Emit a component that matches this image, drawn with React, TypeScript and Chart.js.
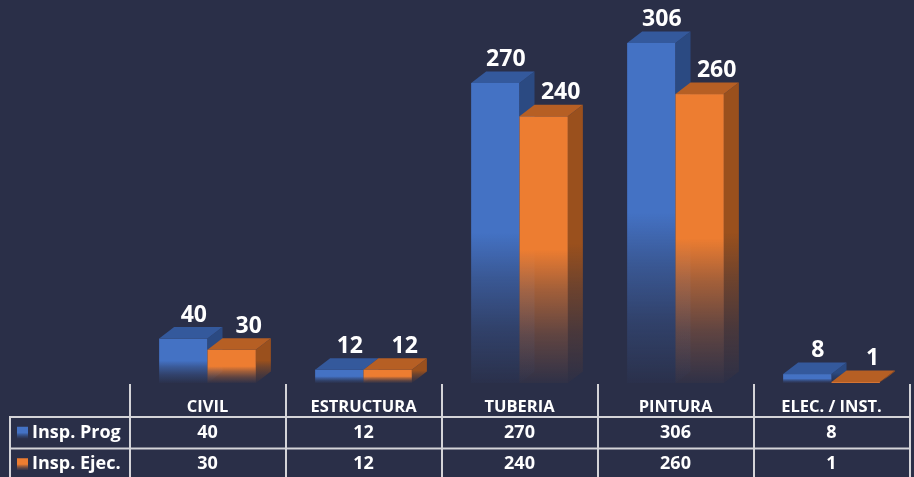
import React, { useEffect, useRef } from 'react';
import { Chart, registerables } from 'chart.js';

Chart.register(...registerables);

const categories = ['CIVIL', 'ESTRUCTURA', 'TUBERIA', 'PINTURA', 'ELEC. / INST.'];
const seriesNames = ['Insp. Prog', 'Insp. Ejec.'];
const inspProg = [40, 12, 270, 306, 8];
const inspEjec = [30, 12, 240, 260, 1];

const BG = '#2a2f48';
const FONT = '"Open Sans", "DejaVu Sans", sans-serif';
const GRID = '#d4d4d8';
const palette = [
  { front: '#4472c4', top: '#34599c', side: '#2b4a82' },
  { front: '#ed7d31', top: '#b65f24', side: '#9a501d' },
];
const DX = 15;
const DY = 11.5;
const labelShift = [3, 9.5];

function rgba(hex: string, a: number) {
  const n = parseInt(hex.slice(1), 16);
  return `rgba(${(n >> 16) & 255},${(n >> 8) & 255},${n & 255},${a})`;
}

function fade(ctx: CanvasRenderingContext2D, hex: string, top: number, base: number) {
  const g = ctx.createLinearGradient(0, top, 0, Math.max(base, top + 0.5));
  g.addColorStop(0, rgba(hex, 1));
  g.addColorStop(0.5, rgba(hex, 1));
  g.addColorStop(0.65, rgba(hex, 0.62));
  g.addColorStop(0.82, rgba(hex, 0.28));
  g.addColorStop(1, rgba(hex, 0.03));
  return g;
}

const bars3d = {
  id: 'bars3d',
  afterDatasetsDraw(chart: any) {
    const ctx: CanvasRenderingContext2D = chart.ctx;
    ctx.save();
    const n = chart.data.datasets.length;
    for (let d = 0; d < n; d++) {
      const meta = chart.getDatasetMeta(d);
      const col = palette[d];
      meta.data.forEach((bar: any) => {
        const { x, y, base, width } = bar.getProps(['x', 'y', 'base', 'width'], true);
        const l = x - width / 2;
        const r = x + width / 2;
        ctx.fillStyle = fade(ctx, col.front, y, base);
        ctx.fillRect(l, y, width, base - y);
        ctx.beginPath();
        ctx.moveTo(r, y);
        ctx.lineTo(r + DX, y - DY);
        ctx.lineTo(r + DX, base - DY);
        ctx.lineTo(r, base);
        ctx.closePath();
        ctx.fillStyle = fade(ctx, col.side, y - DY, base);
        ctx.fill();
        ctx.beginPath();
        ctx.moveTo(l, y);
        ctx.lineTo(l + DX, y - DY);
        ctx.lineTo(r + DX, y - DY);
        ctx.lineTo(r, y);
        ctx.closePath();
        ctx.fillStyle = col.top;
        ctx.fill();
      });
    }
    ctx.fillStyle = '#ffffff';
    ctx.font = `bold 23px ${FONT}`;
    ctx.textAlign = 'center';
    ctx.textBaseline = 'middle';
    for (let d = 0; d < n; d++) {
      const meta = chart.getDatasetMeta(d);
      const values = chart.data.datasets[d].data;
      meta.data.forEach((bar: any, i: number) => {
        const { x, y } = bar.getProps(['x', 'y'], true);
        ctx.fillText(String(values[i]), x + DX / 2 + labelShift[d], y - DY - 12);
      });
    }
    ctx.restore();
  },
};

const dataTable = {
  id: 'dataTable',
  afterDraw(chart: any) {
    const ctx: CanvasRenderingContext2D = chart.ctx;
    const area = chart.chartArea;
    const xs = chart.scales.x;
    const cw = (area.right - area.left) / categories.length;
    const tableLeft = 10;
    const headTop = 384;
    const row1 = 417;
    const row2 = 448.5;
    const rowH = 31.5;
    ctx.save();
    ctx.strokeStyle = GRID;
    ctx.lineWidth = 2;
    ctx.beginPath();
    for (let i = 0; i <= categories.length; i++) {
      const bx = Math.round(area.left + i * cw);
      ctx.moveTo(bx, headTop);
      ctx.lineTo(bx, chart.height + 2);
    }
    ctx.moveTo(tableLeft, row1);
    ctx.lineTo(tableLeft, chart.height + 2);
    ctx.moveTo(tableLeft - 1, row1);
    ctx.lineTo(area.right + 1, row1);
    ctx.moveTo(tableLeft - 1, row2);
    ctx.lineTo(area.right + 1, row2);
    ctx.stroke();

    ctx.fillStyle = '#ffffff';
    ctx.textBaseline = 'middle';
    ctx.textAlign = 'center';
    ctx.font = `bold 16.5px ${FONT}`;
    categories.forEach((c, i) => {
      ctx.fillText(c, xs.getPixelForValue(i), 407);
    });
    ctx.font = `bold 18px ${FONT}`;
    const rows = [row1, row2];
    chart.data.datasets.forEach((ds: any, d: number) => {
      const cy = rows[d] + rowH / 2;
      ds.data.forEach((v: number, i: number) => {
        ctx.fillStyle = '#ffffff';
        ctx.textAlign = 'center';
        ctx.fillText(String(v), xs.getPixelForValue(i), cy);
      });
      const ky = cy - 6;
      ctx.fillStyle = fade(ctx, palette[d].front, ky, ky + 12);
      ctx.fillRect(17, ky, 11, 12);
      ctx.fillStyle = '#ffffff';
      ctx.textAlign = 'left';
      ctx.fillText(ds.label, 32, cy);
    });
    ctx.restore();
  },
};

export default function App() {
  const ref = useRef<HTMLCanvasElement>(null);
  useEffect(() => {
    document.body.style.margin = '0';
    document.body.style.background = BG;
    const chart = new Chart(ref.current!, {
      type: 'bar',
      data: {
        labels: categories,
        datasets: [
          { label: seriesNames[0], data: inspProg, backgroundColor: 'rgba(0,0,0,0)', borderWidth: 0 },
          { label: seriesNames[1], data: inspEjec, backgroundColor: 'rgba(0,0,0,0)', borderWidth: 0 },
        ],
      },
      options: {
        responsive: false,
        animation: false,
        events: [],
        layout: { padding: { left: 129.5, right: 4.5, top: 0, bottom: 94 } },
        datasets: { bar: { categoryPercentage: 0.62, barPercentage: 1 } },
        scales: {
          x: { display: false },
          y: { display: false, min: 0, max: 344.7 },
        },
        plugins: { legend: { display: false }, tooltip: { enabled: false } },
      },
      plugins: [bars3d, dataTable],
    });
    return () => chart.destroy();
  }, []);
  return (
    <div style={{ position: 'absolute', left: 0, top: 0, width: 914, height: 477, background: BG }}>
      <canvas ref={ref} width={914} height={477} style={{ display: 'block', width: 914, height: 477 }} />
    </div>
  );
}
